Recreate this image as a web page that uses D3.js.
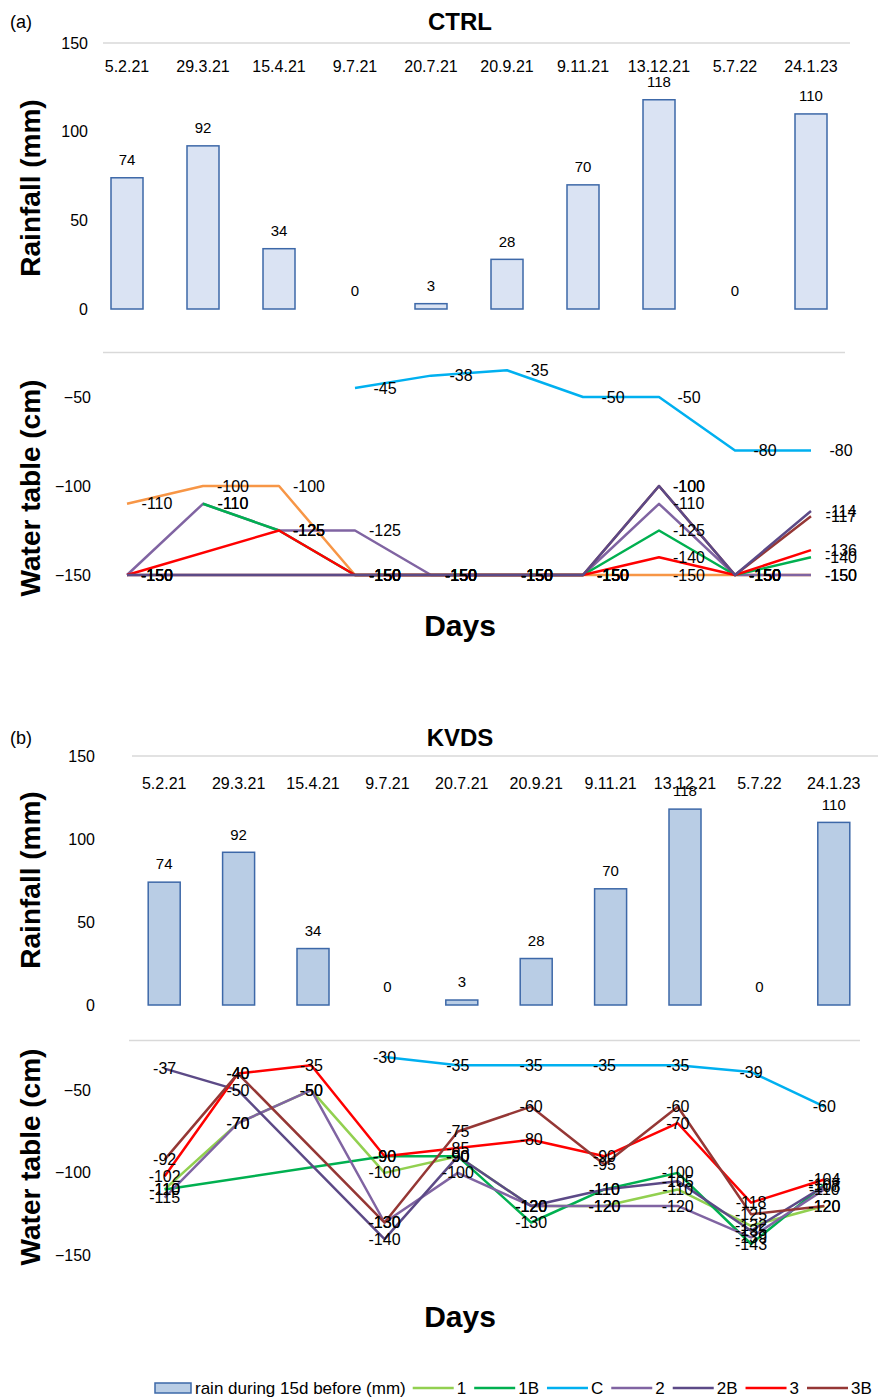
<!DOCTYPE html>
<html>
<head>
<meta charset="utf-8">
<script src="https://cdn.jsdelivr.net/npm/d3@7"></script>
<style>
  body {margin: 0; background: #fff;}
  svg {font-family: "Liberation Sans", Arial, sans-serif;}
</style>
</head>
<body>
<div id="chart"></div>
<script>
// ---- data ----
const cats = ["5.2.21", "29.3.21", "15.4.21", "9.7.21", "20.7.21", "20.9.21", "9.11.21", "13.12.21", "5.7.22", "24.1.23"];
const rain = [74, 92, 34, 0, 3, 28, 70, 118, 0, 110];
const rainTicks = [0, 50, 100, 150];
const tableTicks = [-50, -100, -150];

const seriesNames  = ["1", "1B", "C", "2", "2B", "3", "3B"];
const seriesColors = ["#92d050", "#00b050", "#00b0f0", "#8064a2", "#5c4a87", "#ff0000", "#953735"];
const ctrlFirstColor = "#f79646"; // CTRL draws its first series in orange

// CTRL water table (cm); null = no reading (line joins across it)
const ctrl_1  = [-110, -100, -100, -150, -150, -150, -150, -150, -150, -150];
const ctrl_1B = [null, -110, -125, -150, -150, -150, -150, -125, -150, -140];
const ctrl_C  = [null, null, null, -45, -38, -35, -50, -50, -80, -80];
const ctrl_2  = [-150, -110, -125, -125, -150, -150, -150, -110, -150, -150];
const ctrl_2B = [-150, null, null, -150, -150, -150, -150, -100, -150, -114];
const ctrl_3  = [-150, null, -125, -150, -150, -150, -150, -140, -150, -136];
const ctrl_3B = [-150, null, null, -150, -150, -150, -150, -100, -150, -117];

// KVDS water table (cm)
const kvds_1  = [-110, -70, -50, -100, -90, -120, -120, -110, -132, -120];
const kvds_1B = [-110, null, null, -90, -90, -130, -110, -100, -143, -107];
const kvds_C  = [null, null, null, -30, -35, -35, -35, -35, -39, -60];
const kvds_2  = [-115, -70, -50, -130, -100, -120, -120, -120, -139, -110];
const kvds_2B = [-37, -50, null, -140, -90, -120, -110, -105, -135, -108];
const kvds_3  = [-102, -40, -35, -90, -85, -80, -90, -70, -118, -104];
const kvds_3B = [-92, -40, null, -130, -75, -60, -95, -60, -125, -120];

const ctrlSeries = [ctrl_1, ctrl_1B, ctrl_C, ctrl_2, ctrl_2B, ctrl_3, ctrl_3B];
const kvdsSeries = [kvds_1, kvds_1B, kvds_C, kvds_2, kvds_2B, kvds_3, kvds_3B];

const width = 893, height = 1399;
const svg = d3.select('#chart').append('svg')
  .attr('width', width)
  .attr('height', height);

function drawPanel(p) {
  const g = svg.append('g');

  // panel letter + title
  g.append('text').attr('x', 10).attr('y', p.titleY).attr('dy', '0.35em')
    .style('font-size', '18px').text(p.letter);
  g.append('text').attr('x', 460).attr('y', p.titleY).attr('dy', '0.35em')
    .attr('text-anchor', 'middle')
    .style('font-size', '24px').style('font-weight', 'bold')
    .text(p.title);

  // ---- rainfall bars ----
  const xb = d3.scalePoint().domain(cats).range(p.barRange).padding(0.5);
  const yr = d3.scaleLinear().domain([0, 150]).range([p.rainBottom, p.rainTop]);

  g.append('line')
    .attr('x1', p.grid1[0]).attr('x2', p.grid1[1])
    .attr('y1', yr(150)).attr('y2', yr(150))
    .attr('stroke', '#d9d9d9').attr('stroke-width', 1.5);

  const yAxisR = d3.axisLeft(yr).tickValues(rainTicks).tickSize(0).tickPadding(0);
  g.append('g').attr('transform', 'translate(' + p.rainTickX + ',0)')
    .call(yAxisR)
    .call(a => a.select('.domain').remove())
    .selectAll('text').style('font-size', '16px').attr('fill', '#000')
    .style('font-family', '"Liberation Sans", Arial, sans-serif');

  g.selectAll('.cat').data(cats).enter().append('text')
    .attr('x', d => xb(d)).attr('y', p.catY).attr('dy', '0.35em')
    .attr('text-anchor', 'middle').style('font-size', '16px')
    .text(d => d);

  const bw = 32;
  g.selectAll('.bar').data(rain).enter().append('rect')
    .attr('x', (d, i) => xb(cats[i]) - bw / 2)
    .attr('y', d => yr(d))
    .attr('width', bw)
    .attr('height', d => yr(0) - yr(d))
    .attr('fill', p.barFill)
    .attr('stroke', p.barStroke)
    .attr('stroke-width', 1.5);

  g.selectAll('.barlbl').data(rain).enter().append('text')
    .attr('x', (d, i) => xb(cats[i]))
    .attr('y', d => yr(d) - 18).attr('dy', '0.35em')
    .attr('text-anchor', 'middle').style('font-size', '15px')
    .text(d => d);

  g.append('text')
    .attr('transform', 'translate(' + 30 + ',' + p.rainTitleY + ') rotate(-90)')
    .attr('dy', '0.35em').attr('text-anchor', 'middle')
    .style('font-size', '28px').style('font-weight', 'bold')
    .text('Rainfall (mm)');

  // ---- water table lines ----
  const xl = d3.scalePoint().domain(cats).range(p.lineRange).padding(0.5);
  const yl = d3.scaleLinear().domain(p.tableDomain).range([p.tableBottom, p.tableTop]);

  g.append('line')
    .attr('x1', p.grid2[0]).attr('x2', p.grid2[1])
    .attr('y1', yl(p.tableDomain[1])).attr('y2', yl(p.tableDomain[1]))
    .attr('stroke', '#d9d9d9').attr('stroke-width', 1.5);

  const yAxisL = d3.axisLeft(yl).tickValues(tableTicks).tickSize(0).tickPadding(0);
  g.append('g').attr('transform', 'translate(' + p.tableTickX + ',0)')
    .call(yAxisL)
    .call(a => a.select('.domain').remove())
    .selectAll('text').style('font-size', '16px').attr('fill', '#000')
    .style('font-family', '"Liberation Sans", Arial, sans-serif');

  // gaps are bridged, as in the original
  const line = d3.line()
    .x(d => xl(cats[d[1]]))
    .y(d => yl(d[0]));
  const pts = s => s.map((v, i) => [v, i]).filter(d => d[0] !== null);

  p.order.forEach(k => {
    g.append('path').datum(pts(p.series[k]))
      .attr('d', line)
      .attr('fill', 'none')
      .attr('stroke', p.colors[k])
      .attr('stroke-width', 2.5)
      .attr('stroke-linejoin', 'round');
  });

  p.series.forEach(s => {
    g.selectAll(null).data(pts(s))
      .enter().append('text')
      .attr('x', d => xl(cats[d[1]]) + p.labelDx)
      .attr('y', d => yl(d[0])).attr('dy', '0.35em')
      .attr('text-anchor', 'middle').style('font-size', '16px')
      .text(d => d[0]);
  });

  g.append('text')
    .attr('transform', 'translate(' + 30 + ',' + p.tableTitleY + ') rotate(-90)')
    .attr('dy', '0.35em').attr('text-anchor', 'middle')
    .style('font-size', '28px').style('font-weight', 'bold')
    .text('Water table (cm)');

  g.append('text').attr('x', 460).attr('y', p.daysY).attr('dy', '0.35em')
    .attr('text-anchor', 'middle')
    .style('font-size', '30px').style('font-weight', 'bold')
    .text('Days');
}

drawPanel({
  letter: '(a)', title: 'CTRL', titleY: 22,
  barRange: [89, 849], rainBottom: 309, rainTop: 43, rainTickX: 88,
  grid1: [103, 850], catY: 66, rainTitleY: 188,
  barFill: '#dae3f3', barStroke: '#3d68a8',
  lineRange: [89, 849], tableDomain: [-150, -25], tableBottom: 575, tableTop: 352.5,
  grid2: [103, 845], tableTickX: 91, tableTitleY: 488,
  series: ctrlSeries, colors: [ctrlFirstColor].concat(seriesColors.slice(1)),
  order: [0, 2, 3, 1, 5, 6, 4],
  labelDx: 30, daysY: 625
});

drawPanel({
  letter: '(b)', title: 'KVDS', titleY: 738,
  barRange: [127, 871], rainBottom: 1005, rainTop: 756, rainTickX: 95,
  grid1: [132, 878], catY: 783, rainTitleY: 880,
  barFill: '#b9cde5', barStroke: '#3d68a8',
  lineRange: [128, 861], tableDomain: [-150, -20], tableBottom: 1255.6, tableTop: 1040.5,
  grid2: [129, 860], tableTickX: 91, tableTitleY: 1157,
  series: kvdsSeries, colors: seriesColors,
  order: [0, 1, 2, 3, 4, 5, 6],
  labelDx: 0, daysY: 1316
});

// ---- legend ----
const leg = svg.append('g').attr('transform', 'translate(155,1388)');
let lx = 0;
leg.append('rect').attr('x', 0).attr('y', -5).attr('width', 36).attr('height', 10)
  .attr('fill', '#b9cde5').attr('stroke', '#3d68a8').attr('stroke-width', 1.5);
lx = 40;
const t0 = leg.append('text').attr('x', lx).attr('y', 0).attr('dy', '0.35em')
  .style('font-size', '17px').text('rain during 15d before (mm)');
lx += t0.node().getComputedTextLength() + 7;
seriesNames.forEach((n, k) => {
  leg.append('line').attr('x1', lx).attr('x2', lx + 41).attr('y1', 0).attr('y2', 0)
    .attr('stroke', seriesColors[k]).attr('stroke-width', 2.5);
  lx += 44;
  const t = leg.append('text').attr('x', lx).attr('y', 0).attr('dy', '0.35em')
    .style('font-size', '17px').text(n);
  lx += t.node().getComputedTextLength() + 8;
});
</script>
</body>
</html>
